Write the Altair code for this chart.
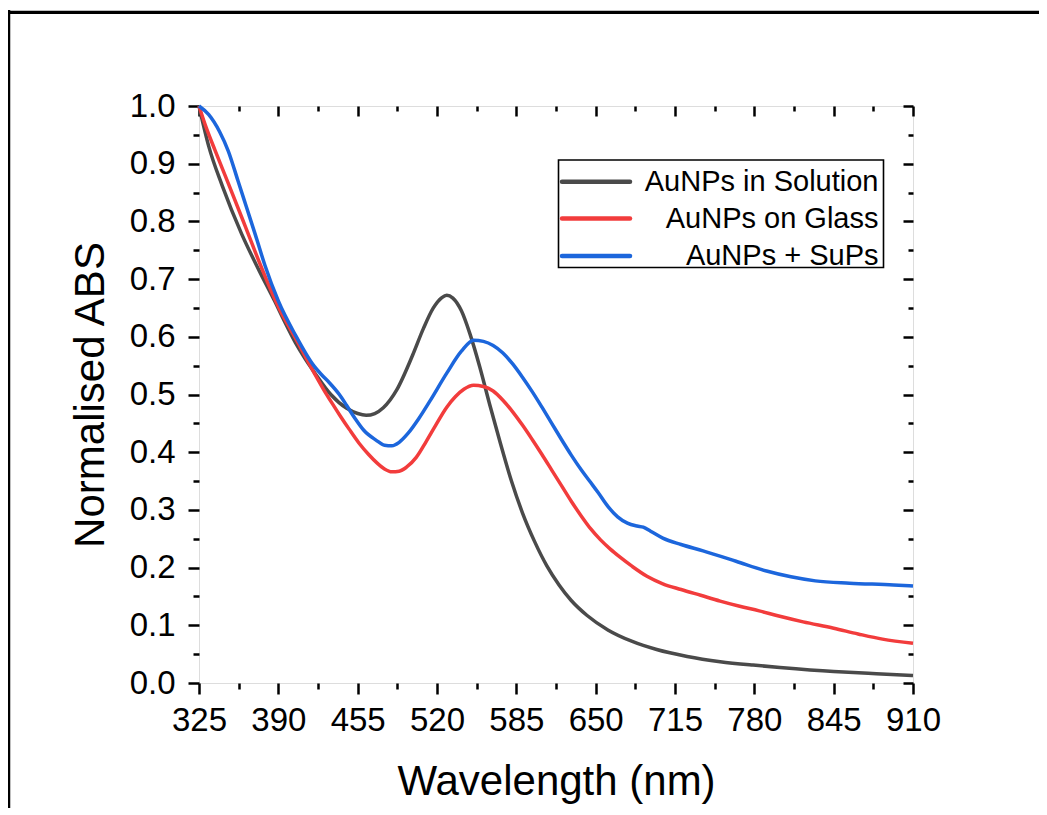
import altair as alt
import pandas as pd

FONT = "Liberation Sans"

series_names = ["AuNPs in Solution", "AuNPs on Glass", "AuNPs + SuPs"]
series_colors = ["#4a4a4a", "#f23c3c", "#1c66dc"]

wl_sol = [325, 333, 344, 360, 374, 387, 395, 404, 412, 420, 433, 446, 455, 462, 469, 476, 487,
          500, 509, 517, 524, 528, 533, 540, 547, 555, 563, 572, 581, 590, 600, 610, 620,
          630, 643, 660, 680, 700, 725, 752, 779, 801, 845, 880, 910]
a_sol = [1.000, 0.930, 0.862, 0.778, 0.716, 0.662, 0.627, 0.590, 0.562, 0.537, 0.500, 0.476,
         0.467, 0.464, 0.467, 0.477, 0.508, 0.568, 0.615, 0.650, 0.668, 0.672, 0.667, 0.645,
         0.605, 0.548, 0.484, 0.415, 0.350, 0.295, 0.245, 0.203, 0.170, 0.143, 0.117, 0.092,
         0.072, 0.058, 0.046, 0.037, 0.031, 0.027, 0.020, 0.016, 0.013]

wl_gl = [325, 331, 338, 349, 363, 376, 391, 398, 406, 413, 420, 427, 434, 441, 448, 456, 464,
         471, 477, 483, 489, 495, 503, 511, 519, 528, 535, 542, 550, 558, 566, 574, 582, 590,
         598, 606, 614, 622, 630, 638, 646, 654, 662, 670, 680, 692, 705, 720, 736, 752, 768,
         784, 800, 820, 845, 865, 885, 910]
a_gl = [1.000, 0.962, 0.924, 0.866, 0.791, 0.721, 0.648, 0.620, 0.590, 0.562, 0.535, 0.509,
        0.485, 0.462, 0.440, 0.416, 0.396, 0.381, 0.371, 0.366, 0.367, 0.374, 0.391, 0.418,
        0.447, 0.478, 0.496, 0.509, 0.516, 0.514, 0.506, 0.490, 0.470, 0.447, 0.422, 0.396,
        0.369, 0.342, 0.315, 0.290, 0.267, 0.248, 0.232, 0.218, 0.202, 0.185, 0.172, 0.162,
        0.152, 0.142, 0.133, 0.125, 0.116, 0.106, 0.095, 0.085, 0.076, 0.069]

wl_sup = [325, 333, 342, 349, 357, 364, 371, 379, 390, 404, 419, 426, 432, 440, 446, 453, 460,
          470, 477, 483, 489, 496, 505, 514, 528, 540, 550, 558, 566, 574, 582, 590, 598, 606,
          614, 622, 630, 638, 645, 652, 660, 668, 676, 684, 689, 695, 705, 720, 738, 765, 790,
          810, 830, 858, 894, 910]
a_sup = [1.000, 0.985, 0.955, 0.922, 0.870, 0.824, 0.778, 0.724, 0.662, 0.603, 0.550, 0.533,
         0.520, 0.500, 0.481, 0.458, 0.438, 0.421, 0.412, 0.411, 0.417, 0.432, 0.458, 0.488,
         0.537, 0.575, 0.594, 0.592, 0.585, 0.572, 0.553, 0.530, 0.505, 0.478, 0.450, 0.422,
         0.395, 0.370, 0.350, 0.330, 0.306, 0.288, 0.277, 0.272, 0.270, 0.263, 0.251, 0.240,
         0.229, 0.211, 0.194, 0.184, 0.177, 0.173, 0.170, 0.168]

x_major = [325, 390, 455, 520, 585, 650, 715, 780, 845, 910]
x_minor = [357.5, 422.5, 487.5, 552.5, 617.5, 682.5, 747.5, 812.5, 877.5]
y_major = [0.0, 0.1, 0.2, 0.3, 0.4, 0.5, 0.6, 0.7, 0.8, 0.9, 1.0]
y_minor = [0.05, 0.15, 0.25, 0.35, 0.45, 0.55, 0.65, 0.75, 0.85, 0.95]

rows = []
for name, wls, vals in [(series_names[0], wl_sol, a_sol),
                        (series_names[1], wl_gl, a_gl),
                        (series_names[2], wl_sup, a_sup)]:
    for w, a in zip(wls, vals):
        rows.append({"series": name, "wl": w, "A": a})
df = pd.DataFrame(rows)

W, H = 714, 577
xs = alt.Scale(domain=[325, 910], nice=False, zero=False)
ys = alt.Scale(domain=[0, 1], nice=False, zero=False)

common_axis = dict(domain=False, grid=False, tickColor="black", tickWidth=2.5,
                   labelFlush=False, labelOverlap=False)

# main lines with labelled bottom / left axes
lines = alt.Chart(df).mark_line(strokeWidth=3.5, interpolate="monotone").encode(
    x=alt.X("wl:Q", scale=xs, axis=alt.Axis(
        orient="bottom", values=x_major, format="d", tickSize=11,
        labelFont=FONT, labelFontSize=33, labelColor="black", labelPadding=10,
        title="Wavelength (nm)", titleFont=FONT, titleFontSize=42, titleFontWeight="normal",
        titleColor="black", titleX=357, titleY=111, titleBaseline="alphabetic", **common_axis)),
    y=alt.Y("A:Q", scale=ys, axis=alt.Axis(
        orient="left", values=y_major, format=".1f", tickSize=11,
        labelFont=FONT, labelFontSize=33, labelColor="black", labelPadding=13,
        title="Normalised ABS", titleFont=FONT, titleFontSize=42, titleFontWeight="normal",
        titleColor="black", titleX=-96, titleY=288.5, titleBaseline="alphabetic", **common_axis)),
    color=alt.Color("series:N", scale=alt.Scale(domain=series_names, range=series_colors), legend=None),
    detail="series:N",
)

def tick_layer(xvals, yvals, xsize, ysize, xoff, yoff):
    return alt.Chart(df).mark_point(opacity=0).encode(
        x=alt.X("wl:Q", scale=xs, title=None, axis=alt.Axis(
            orient="bottom", values=xvals, tickSize=xsize, labels=False, offset=xoff, **common_axis)),
        y=alt.Y("A:Q", scale=ys, title=None, axis=alt.Axis(
            orient="left", values=yvals, tickSize=ysize, labels=False, offset=yoff, **common_axis)),
    )

minor_out = tick_layer(x_minor, y_minor, 6, 6, 0, 0)
major_in = tick_layer(x_major, y_major, 10, 10, -H, -W)
minor_in = tick_layer(x_minor, y_minor, 5, 5, -H, -W)

# legend (drawn by hand)
one = pd.DataFrame({"k": [0]})
legend_layers = [
    alt.Chart(one).mark_rect(fill="white", stroke="black", strokeWidth=1.6).encode(
        x=alt.value(359.5), x2=alt.value(684.5), y=alt.value(54), y2=alt.value(161.5))
]
legend_line_y = [75.7, 112.5, 150]
legend_text_y = [84.7, 122.3, 159]
for name, col, ly, ty in zip(series_names, series_colors, legend_line_y, legend_text_y):
    legend_layers.append(
        alt.Chart(one).mark_rule(color=col, strokeWidth=4.5, strokeCap="round").encode(
            x=alt.value(363), x2=alt.value(431), y=alt.value(ly)))
    legend_layers.append(
        alt.Chart(pd.DataFrame({"label": [name]})).mark_text(
            align="right", baseline="alphabetic", font=FONT, fontSize=29, color="black").encode(
            x=alt.value(679.5), y=alt.value(ty), text="label:N"))

# outer figure frame (only its left and top edges are visible)
frame_left = alt.Chart(one).mark_rule(color="black", strokeWidth=3.5).encode(
    x=alt.value(-190.5), y=alt.value(-96), y2=alt.value(900))
frame_top = alt.Chart(one).mark_rule(color="black", strokeWidth=3.3).encode(
    x=alt.value(-192), x2=alt.value(1000), y=alt.value(-93.7))

chart = alt.layer(
    lines, minor_out, major_in, minor_in, *legend_layers, frame_left, frame_top
).resolve_axis(x="independent", y="independent").properties(
    width=W, height=H,
    autosize=alt.AutoSizeParams(type="none"),
    padding={"left": 191, "top": 98, "right": 126, "bottom": 125},
).configure_view(stroke="black", strokeWidth=2.5).configure(background="white")

chart.save("out.html", embed_options={"renderer": "svg", "actions": False})
